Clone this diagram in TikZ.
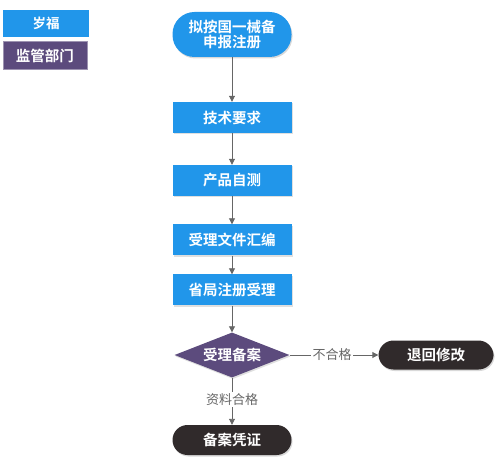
\documentclass[tikz,border=0pt]{standalone}
\usepackage{fontspec}
\newfontfamily\cjk{Noto Sans CJK SC}
\newfontfamily\cjkb{Noto Sans CJK SC Bold}
\usetikzlibrary{shapes.geometric,arrows.meta,shadows}
\definecolor{bblue}{HTML}{2196EA}
\definecolor{purp}{HTML}{5C4B7D}
\definecolor{dark}{HTML}{302A2B}
\definecolor{lgray}{HTML}{666666}
\begin{document}
\begin{tikzpicture}[x=1pt,y=-1pt,
  txt/.style={text=white,font=\cjkb\fontsize{14.5}{17}\selectfont,align=center,inner sep=0pt},
  bluebox/.style={txt,fill=bblue,minimum width=119pt,minimum height=31pt,drop shadow={shadow xshift=1pt,shadow yshift=-1.5pt,opacity=0.25}},
  pill/.style={txt,rounded corners=15pt,minimum width=119pt,minimum height=30pt,drop shadow={shadow xshift=1pt,shadow yshift=-1.5pt,opacity=0.3}},
  conn/.style={draw=lgray,line width=0.9pt,-{Triangle[length=6pt,width=6pt]}},
  lbl/.style={text=lgray,font=\cjk\fontsize{13}{15}\selectfont,fill=white,inner sep=1.5pt}
]
\useasboundingbox (0,0) rectangle (501,457);
% legend
\node[txt,font=\cjkb\fontsize{13.5}{16}\selectfont,fill=bblue,minimum width=86pt,minimum height=27pt] (lg1) at (46,23.5) {岁福};
\node[txt,font=\cjkb\fontsize{14.5}{17}\selectfont,fill=purp,draw=purp!60,line width=1pt,minimum width=84pt,minimum height=28pt] (lg2) at (45,56) {监管部门};
% nodes
\node[pill,fill=bblue,rounded corners=22pt,minimum height=45pt] (n1) at (232,34.5) {拟按国一械备\\[-2pt]申报注册};
\node[bluebox] (n2) at (232,117.5) {技术要求};
\node[bluebox] (n3) at (232,180.5) {产品自测};
\node[bluebox] (n4) at (232,240) {受理文件汇编};
\node[bluebox] (n5) at (232,290) {省局注册受理};
\node[diamond,txt,fill=purp,minimum width=115pt,minimum height=45pt,aspect=2.55,drop shadow={shadow xshift=1pt,shadow yshift=-1.5pt,opacity=0.25}] (d) at (232,355) {受理备案};
\node[pill,fill=dark,minimum width=115pt,minimum height=29pt] (r) at (436,355) {退回修改};
\node[pill,fill=dark] (b) at (232,440) {备案凭证};
% connectors
\draw[conn] (n1) -- (n2);
\draw[conn] (n2) -- (n3);
\draw[conn] (n3) -- (n4);
\draw[conn] (n4) -- (n5);
\draw[conn] (n5) -- (d);
\draw[conn] (d.east) -- node[lbl,pos=0.48]{不合格} (r.west);
\draw[conn] (d.south) -- node[lbl,pos=0.47]{资料合格} (b.north);
\end{tikzpicture}
\end{document}
